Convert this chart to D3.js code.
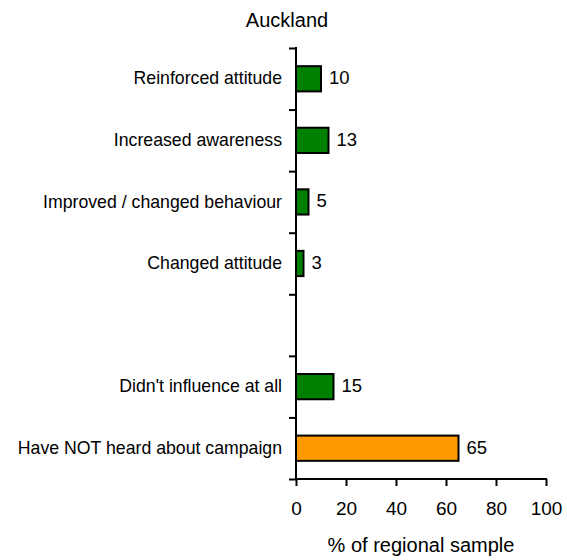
<!DOCTYPE html>
<html>
<head>
<meta charset="utf-8">
<script src="https://cdn.jsdelivr.net/npm/d3@7"></script>
<style>
  html, body { margin: 0; padding: 0; background: #fff; }
  svg text { font-family: "Liberation Sans", Arial, sans-serif; fill: #000; }
</style>
</head>
<body>
<svg id="chart" width="567" height="560"></svg>
<script>
const title = "Auckland";
const categories = [
  "Reinforced attitude",
  "Increased awareness",
  "Improved / changed behaviour",
  "Changed attitude",
  "",
  "Didn't influence at all",
  "Have NOT heard about campaign"
];
const values = [10, 13, 5, 3, null, 15, 65];
const xTicks = [0, 20, 40, 60, 80, 100];
const xTitle = "% of regional sample";
const notHeardCategory = "Have NOT heard about campaign";

(function () {
const svg = d3.select("#chart");
const pL = 296, pR = 546, pT = 48, pB = 479;
const ids = d3.range(categories.length);

const x = d3.scaleLinear().domain([0, 100]).range([pL, pR]);
const y = d3.scaleBand().domain(ids).range([pT, pB]).paddingInner(0.59).paddingOuter(0.295);
const yEdge = d3.scaleLinear().domain([0, categories.length]).range([pT, pB]);

// bars
const data = ids.filter(i => values[i] != null).map(i => ({i, cat: categories[i], v: values[i]}));
svg.append("g").selectAll("rect").data(data).join("rect")
  .attr("x", x(0))
  .attr("y", d => y(d.i))
  .attr("width", d => x(d.v) - x(0))
  .attr("height", y.bandwidth())
  .attr("fill", d => d.cat === notHeardCategory ? "#FF9900" : "#008000")
  .attr("stroke", "#000")
  .attr("stroke-width", 2);

// value labels
svg.append("g").selectAll("text").data(data).join("text")
  .attr("x", d => x(d.v) + 8)
  .attr("y", d => y(d.i) + y.bandwidth() / 2)
  .attr("dy", "0.3em")
  .attr("font-size", 18.5)
  .text(d => d.v);

// y axis: boundary ticks
const yAxisG = svg.append("g").attr("transform", `translate(${pL},0)`)
  .call(d3.axisLeft(yEdge).tickValues(d3.range(categories.length + 1)).tickSize(7).tickFormat(""));
yAxisG.select(".domain").remove();
yAxisG.selectAll(".tick line").attr("stroke", "#000").attr("stroke-width", 2);

// y axis: category labels
const yLab = svg.append("g").attr("transform", `translate(${pL},0)`)
  .call(d3.axisLeft(y).tickSize(0).tickPadding(14).tickFormat(i => categories[i]));
yLab.select(".domain").remove();
yLab.selectAll(".tick text").attr("font-size", 17.7).attr("font-family", "Liberation Sans, Arial, sans-serif").attr("fill", "#000");

svg.append("line").attr("x1", pL).attr("x2", pL).attr("y1", pT - 1).attr("y2", pB)
  .attr("stroke", "#000").attr("stroke-width", 2);

// x axis
const xAxisG = svg.append("g").attr("transform", `translate(0,${pB})`)
  .call(d3.axisBottom(x).tickValues(xTicks).tickSize(7).tickPadding(16).tickFormat(d3.format("d")));
xAxisG.select(".domain").attr("stroke", "#000").attr("stroke-width", 2).attr("d", `M${pL - 1},0H${pR + 1}`);
xAxisG.selectAll(".tick line").attr("stroke", "#000").attr("stroke-width", 2);
xAxisG.selectAll(".tick text").attr("font-size", 19).attr("font-family", "Liberation Sans, Arial, sans-serif").attr("fill", "#000");

// titles
svg.append("text").attr("x", 287).attr("y", 27).attr("text-anchor", "middle").attr("font-size", 20).text(title);
svg.append("text").attr("x", (pL + pR) / 2).attr("y", 552).attr("text-anchor", "middle").attr("font-size", 20).text(xTitle);
})();
</script>
</body>
</html>
